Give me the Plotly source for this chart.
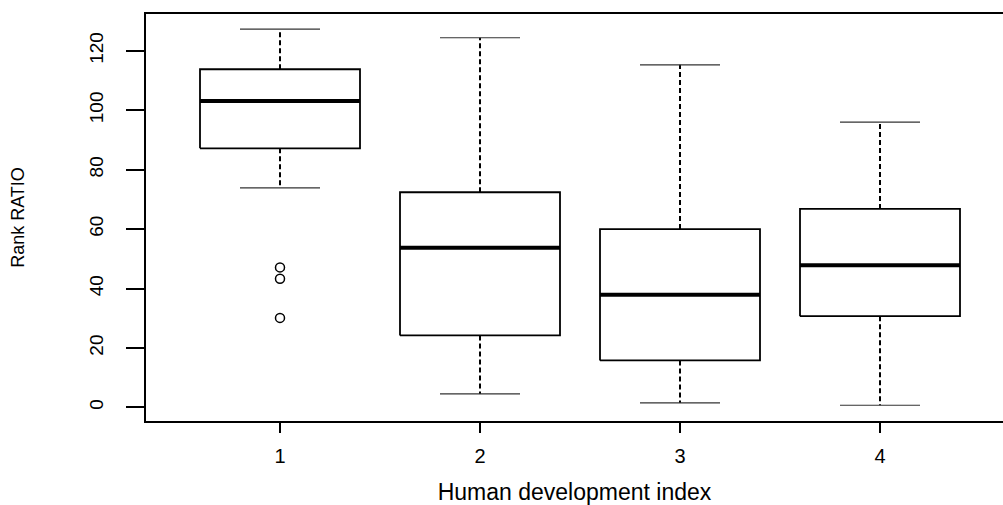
import plotly.graph_objects as go

# ---- data ----
groups = [1, 2, 3, 4]
upper_whisker = [127.3, 124.4, 115.3, 96.0]
q3_vals = [113.8, 72.4, 60.0, 66.8]
median_vals = [103.1, 53.7, 37.9, 47.8]
q1_vals = [87.2, 24.2, 15.8, 30.7]
lower_whisker = [73.9, 4.5, 1.5, 0.7]
outlier_group = [1, 1, 1]
outlier_vals = [47.1, 43.3, 30.1]
y_ticks = [0, 20, 40, 60, 80, 100, 120]
x_ticks = [1, 2, 3, 4]
x_title = "Human development index"
y_title = "Rank RATIO"

HALF = 0.4     # half box width (boxwex 0.8)
CAP = 0.2      # half staple width
FONT = "Liberation Sans, Arial, sans-serif"

# build paths from the data
box_x, box_y = [], []
med_x, med_y = [], []
wh_x, wh_y = [], []
cap_x, cap_y = [], []
for g, lo, a, m, b, hi in zip(groups, lower_whisker, q1_vals, median_vals, q3_vals, upper_whisker):
    box_x += [g - HALF, g + HALF, g + HALF, g - HALF, g - HALF, None]
    box_y += [a, a, b, b, a, None]
    med_x += [g - HALF, g + HALF, None]
    med_y += [m, m, None]
    wh_x += [g, g, None, g, g, None]
    wh_y += [b, hi, None, a, lo, None]
    cap_x += [g - CAP, g + CAP, None, g - CAP, g + CAP, None]
    cap_y += [hi, hi, None, lo, lo, None]

fig = go.Figure()
fig.add_trace(go.Scatter(x=wh_x, y=wh_y, mode="lines",
                         line=dict(color="black", width=2, dash="5px,3px"),
                         hoverinfo="skip"))
fig.add_trace(go.Scatter(x=cap_x, y=cap_y, mode="lines",
                         line=dict(color="#333333", width=1.2),
                         hoverinfo="skip"))
fig.add_trace(go.Scatter(x=box_x, y=box_y, mode="lines",
                         line=dict(color="black", width=1.8),
                         hoverinfo="skip"))
fig.add_trace(go.Scatter(x=med_x, y=med_y, mode="lines",
                         line=dict(color="black", width=4),
                         hoverinfo="skip"))
fig.add_trace(go.Scatter(x=outlier_group, y=outlier_vals, mode="markers",
                         marker=dict(symbol="circle-open", size=9,
                                     color="black", line=dict(width=1.5)),
                         hoverinfo="skip"))

fig.update_layout(
    width=1003, height=505,
    margin=dict(l=146, r=0, t=14, b=84),
    paper_bgcolor="white", plot_bgcolor="white",
    showlegend=False,
    font=dict(family=FONT, size=18, color="black"),
)
fig.update_xaxes(
    range=[0.33, 4.615],
    automargin=False,
    tickvals=x_ticks, ticktext=[str(v) for v in x_ticks],
    ticks="outside", ticklen=10, tickwidth=2, tickcolor="black",
    showline=True, linecolor="black", linewidth=1.5, mirror=True,
    showgrid=False, zeroline=False,
    tickfont=dict(size=20),
    ticklabelstandoff=6,
    title=dict(text=x_title, font=dict(size=23), standoff=24),
)
fig.update_yaxes(
    range=[-4.6, 132.4],
    automargin=False,
    tickvals=y_ticks, ticktext=[str(v) for v in y_ticks],
    tickangle=-90,
    ticks="outside", ticklen=18, tickwidth=1.5, tickcolor="black",
    showline=True, linecolor="black", linewidth=1.5, mirror=False,
    showgrid=False, zeroline=False,
    tickfont=dict(size=19),
    ticklabelstandoff=16,
    title=dict(text=y_title, font=dict(size=18), standoff=56),
)

fig.write_html("out.html")
